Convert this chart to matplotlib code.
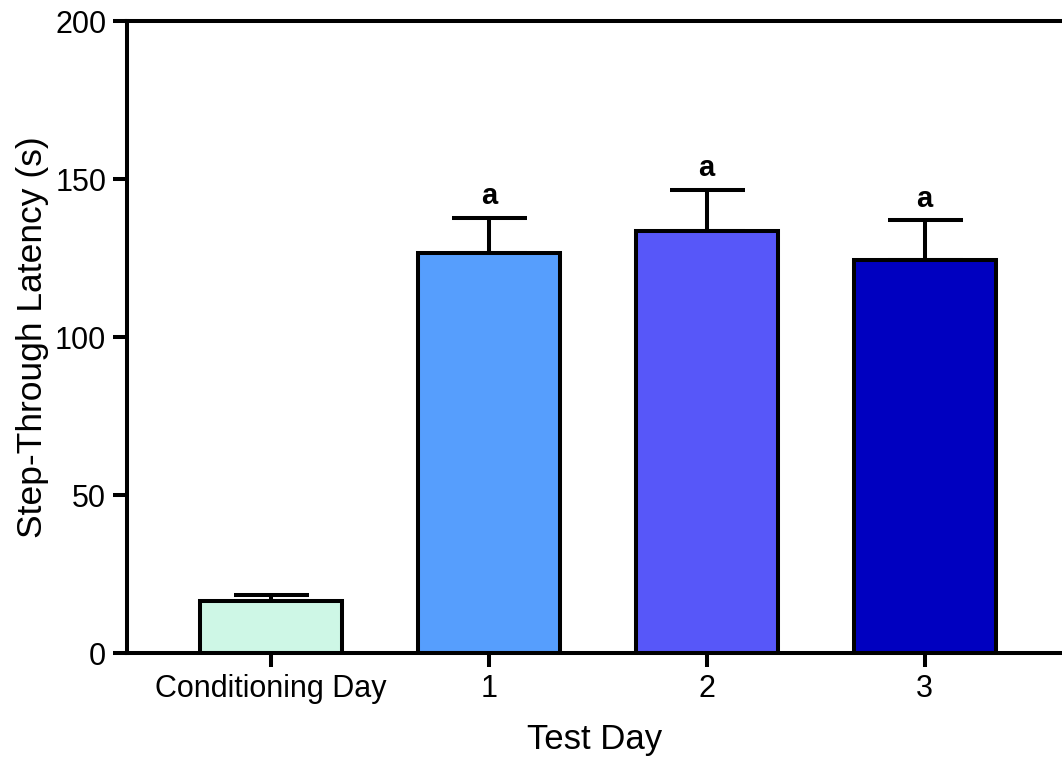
import numpy as np
import matplotlib
matplotlib.use('Agg')
import matplotlib.pyplot as plt

plt.rcParams['font.family'] = ['Liberation Sans', 'DejaVu Sans']

# mean latency and SEM for each day
days = ['Conditioning Day', '1', '2', '3']
latency = [16.5, 126.5, 133.5, 124.5]
sem = [1.9, 11.1, 13.0, 12.4]
colors = ['#CEF7E6', '#569EFD', '#5757F9', '#0000C0']
letters = ['', 'a', 'a', 'a']

fig = plt.figure(figsize=(10.62, 7.61), dpi=100)
ax = fig.add_axes([0.1196, 0.1419, 0.8804, 0.8305])

x = np.arange(len(days))
lw = 2.9
ax.bar(x, latency, width=0.65, color=colors, edgecolor='black', linewidth=lw, zorder=2)
ax.errorbar(x, latency, yerr=[np.zeros(len(sem)), sem], fmt='none', ecolor='black',
            elinewidth=lw, capsize=27, capthick=lw, zorder=1)

for xi, m, e, t in zip(x, latency, sem, letters):
	if t:
		ax.text(xi, m + e + 2.5, t, ha='center', va='bottom', fontsize=21,
		        fontweight='bold', family=['Liberation Sans'])

ax.set_xlim(-0.66, 3.63)
ax.set_ylim(0, 200)
ax.set_yticks([0, 50, 100, 150, 200])
ax.set_xticks(x)
ax.set_xticklabels(days)
ax.tick_params(axis='both', labelsize=22, width=lw, length=10, direction='out', pad=5)
ax.spines['right'].set_visible(False)
for s in ['left', 'bottom', 'top']:
	ax.spines[s].set_linewidth(lw)

ax.set_xlabel('Test Day', fontsize=25, labelpad=14)
ax.set_ylabel('Step-Through Latency (s)', fontsize=25.5, labelpad=4)

fig.savefig('out.png', dpi=100)
